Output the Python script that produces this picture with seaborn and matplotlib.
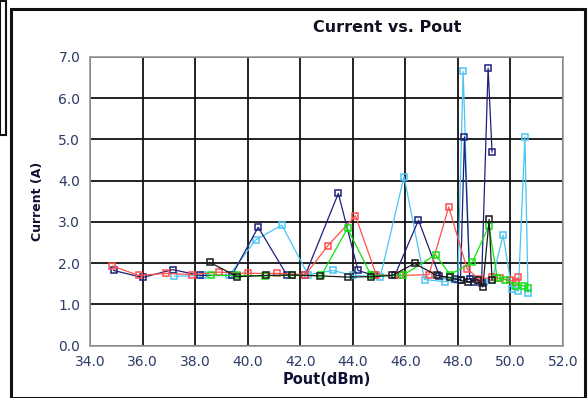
import matplotlib
matplotlib.use("Agg")
import matplotlib.pyplot as plt
import seaborn as sns
import numpy as np
from matplotlib.patches import Rectangle
from matplotlib.ticker import MultipleLocator, FormatStrFormatter

sns.set_style("white")
plt.rcParams['font.family'] = ['DejaVu Sans']

# ---- data ----
lightblue_x = [37.2, 38.3, 39.3, 40.3, 41.3, 42.3, 43.25, 44.0, 45.05, 45.95, 46.73, 47.5,
               48.0, 48.2, 48.45, 48.75, 49.0, 49.3, 49.72, 50.05, 50.3, 50.55, 50.67]
lightblue_y = [1.68, 1.70, 1.70, 2.56, 2.92, 1.72, 1.82, 1.70, 1.67, 4.10, 1.60, 1.55,
               1.60, 6.65, 1.62, 1.58, 1.55, 1.58, 2.68, 1.37, 1.32, 5.06, 1.27]

navy_x = [34.9, 36.0, 37.15, 38.2, 39.4, 40.4, 41.5, 42.2, 43.45, 44.2, 44.8, 45.6, 46.5, 47.3,
          47.9, 48.1, 48.25, 48.45, 48.6, 48.9, 49.15, 49.3]
navy_y = [1.82, 1.65, 1.84, 1.70, 1.70, 2.87, 1.70, 1.72, 3.69, 1.82, 1.70, 1.70, 3.04, 1.68,
          1.62, 1.60, 5.06, 1.62, 1.55, 1.52, 6.73, 4.69]

red_x = [34.85, 35.85, 36.9, 37.9, 38.9, 40.0, 41.1, 42.2, 43.05, 44.1, 44.9, 45.8, 46.9, 47.65,
         48.35, 48.8, 49.3, 49.6, 50.0, 50.2, 50.3]
red_y = [1.93, 1.70, 1.75, 1.72, 1.78, 1.75, 1.75, 1.72, 2.42, 3.15, 1.70, 1.70, 1.72, 3.36,
         1.86, 1.61, 1.65, 1.63, 1.58, 1.55, 1.65]

green_x = [38.6, 39.6, 40.65, 41.7, 42.8, 43.8, 44.7, 45.9, 47.15, 47.7, 48.55, 49.18, 49.5, 49.8,
           50.2, 50.5, 50.65]
green_y = [1.70, 1.70, 1.69, 1.70, 1.70, 2.84, 1.70, 1.70, 2.20, 1.72, 2.02, 2.90, 1.63, 1.60,
           1.45, 1.45, 1.40]

black_x = [38.55, 39.6, 40.7, 41.7, 42.75, 43.8, 44.7, 45.5, 46.35, 47.2, 47.7, 48.1, 48.4, 48.75,
           48.95, 49.19, 49.3]
black_y = [2.02, 1.67, 1.70, 1.71, 1.69, 1.66, 1.67, 1.70, 1.99, 1.70, 1.65, 1.58, 1.54, 1.60,
           1.42, 3.06, 1.58]

series = [
    ("lightblue", lightblue_x, lightblue_y, "#4cc4f4"),
    ("navy", navy_x, navy_y, "#1f1f78"),
    ("red", red_x, red_y, "#ff4f4f"),
    ("green", green_x, green_y, "#12e012"),
    ("black", black_x, black_y, "#1a1a1a"),
]

x_ticks = [34.0, 36.0, 38.0, 40.0, 42.0, 44.0, 46.0, 48.0, 50.0, 52.0]
y_ticks = [0.0, 1.0, 2.0, 3.0, 4.0, 5.0, 6.0, 7.0]

W, H = 588, 398
fig = plt.figure(figsize=(W / 100, H / 100), dpi=100)
ax = fig.add_axes([90 / W, 1 - 345.5 / H, (563 - 90) / W, (345.5 - 57) / H])

for name, xs, ys, c in series:
    sns.lineplot(x=xs, y=ys, ax=ax, sort=False, estimator=None, color=c,
                 marker="s", markersize=5, markerfacecolor="none",
                 markeredgecolor=c, markeredgewidth=1.1, linewidth=0.9,
                 legend=False, zorder=3)

ax.set_xlim(34.0, 52.0)
ax.set_ylim(0.0, 7.0)
ax.set_xticks(x_ticks)
ax.set_yticks(y_ticks)
ax.xaxis.set_minor_locator(MultipleLocator(1.0))
ax.yaxis.set_minor_locator(MultipleLocator(0.2))
ax.xaxis.set_major_formatter(FormatStrFormatter("%.1f"))
ax.yaxis.set_major_formatter(FormatStrFormatter("%.1f"))

ax.grid(True, which="major", color="#111111", linewidth=1.3, zorder=0)
ax.set_axisbelow(True)
for s in ax.spines.values():
    s.set_color("#9a9a9a")
    s.set_linewidth(1.2)

tick_color = "#2b3a67"
ax.tick_params(axis="both", which="major", direction="out", length=5, width=1.2,
               color="#222222", labelsize=10, labelcolor=tick_color, pad=2)
ax.tick_params(axis="both", which="minor", direction="out", length=3, width=1.2,
               color="#222222")

ax.set_xlabel("Pout(dBm)", fontsize=10.5, fontweight="bold", color="#111133", labelpad=2)
ax.set_ylabel("Current (A)", fontsize=9, fontweight="bold", color="#111133", labelpad=10)

fig.text(387 / W, 1 - 28 / H, "Current vs. Pout", ha="center", va="center",
         fontsize=11.5, fontweight="bold", color="#111122")

# outer frames
fig.patches.append(Rectangle((11 / W, 0), (585 - 11) / W, (H - 8.5) / H, transform=fig.transFigure,
                             fill=False, edgecolor="#111111", linewidth=2.2))
fig.patches.append(Rectangle((0, 1 - 135 / H), 6 / W, 134 / H, transform=fig.transFigure,
                             fill=False, edgecolor="#111111", linewidth=1.5))

fig.savefig("out.png", dpi=100)
